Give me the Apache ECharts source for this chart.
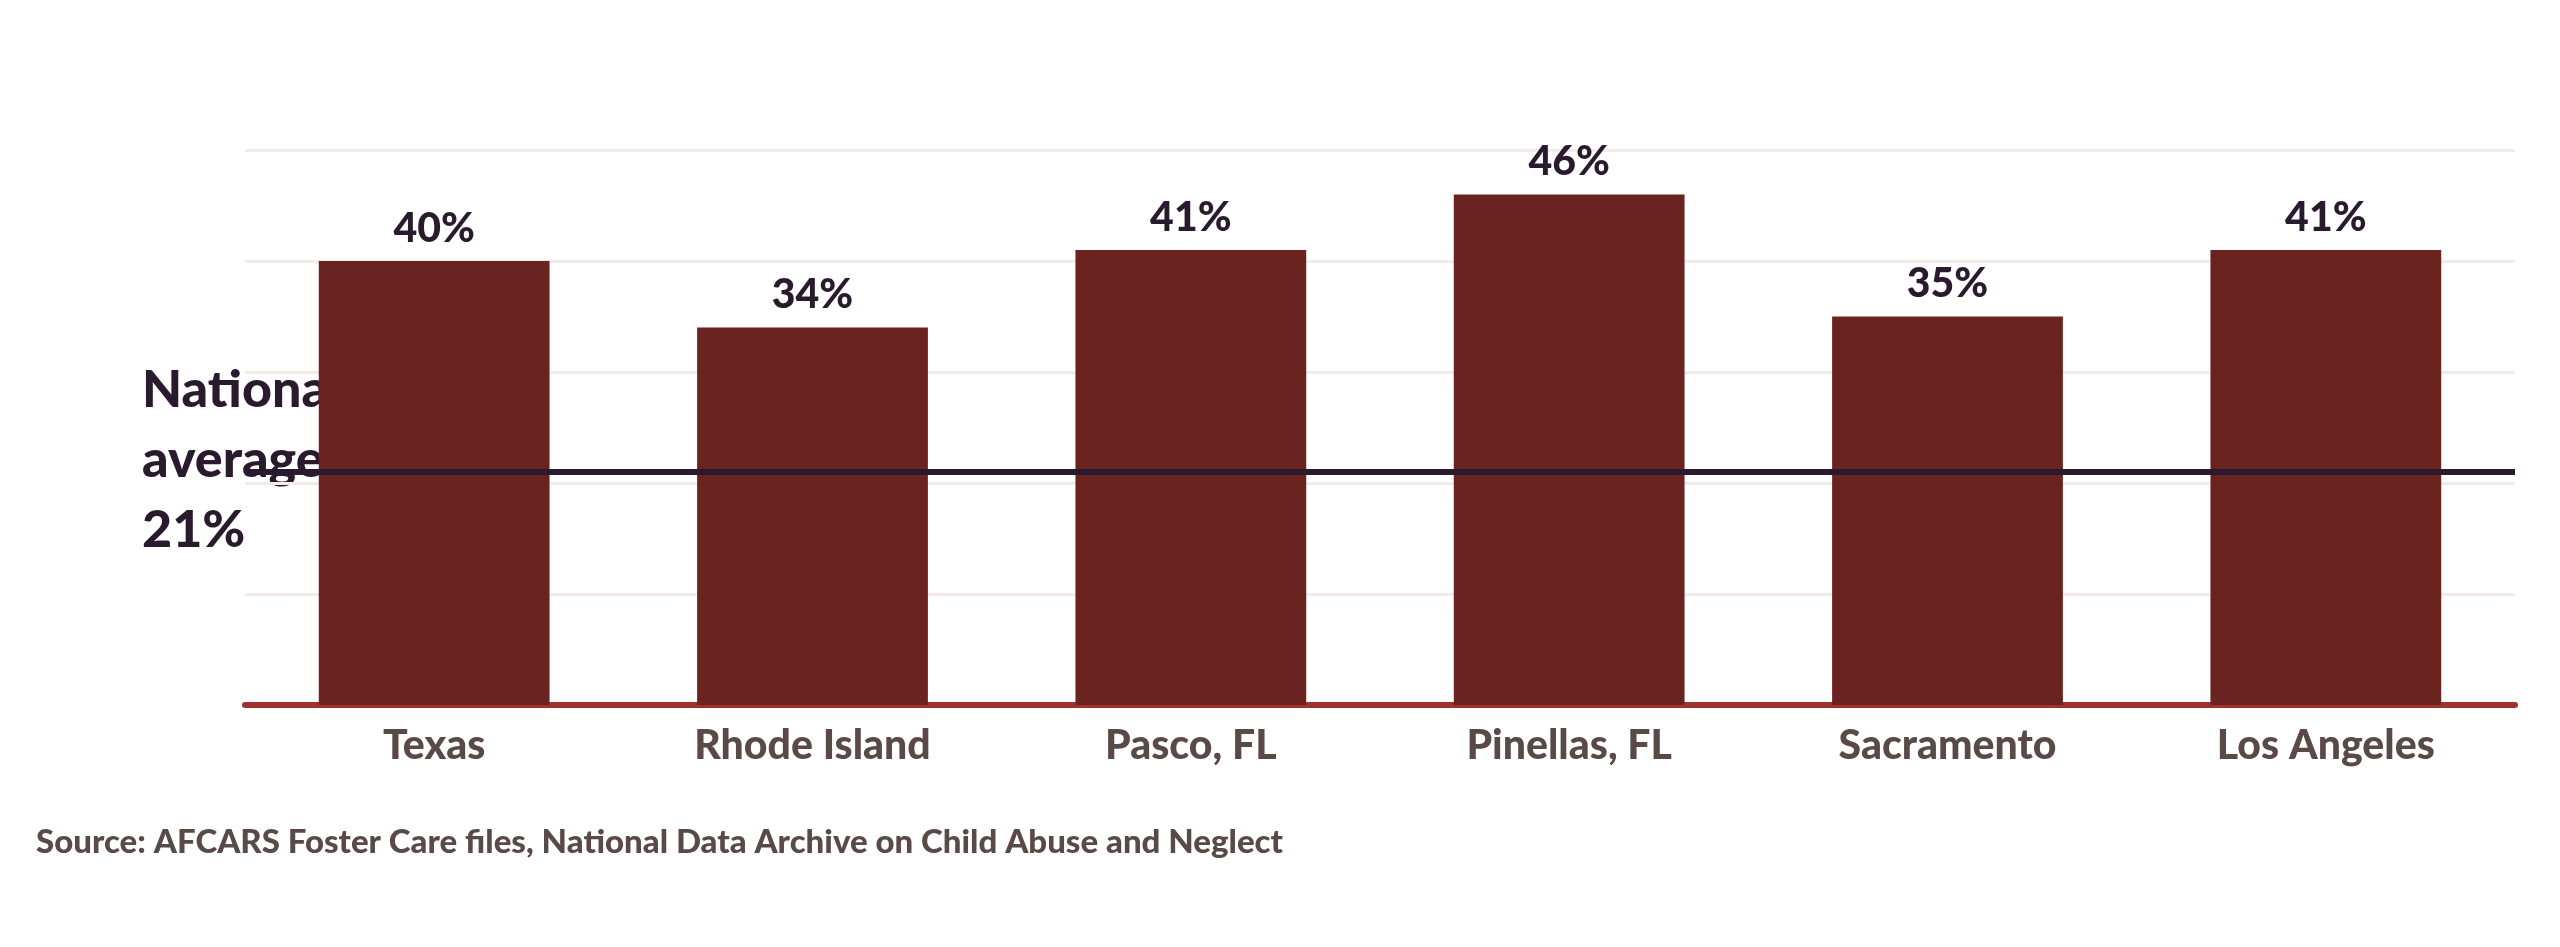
<!DOCTYPE html>
<html>
<head>
<meta charset="utf-8">
<script src="https://cdn.jsdelivr.net/npm/echarts@6/dist/echarts.min.js"></script>
<style>
html,body{margin:0;padding:0;background:#fff;}
#chart{width:2560px;height:947px;}
</style>
</head>
<body>
<div id="chart"></div>
<script>
var categories = ['Texas', 'Rhode Island', 'Pasco, FL', 'Pinellas, FL', 'Sacramento', 'Los Angeles'];
var values = [40, 34, 41, 46, 35, 41];
var nationalAverage = 21;
var sourceText = 'Source: AFCARS Foster Care files, National Data Archive on Child Abuse and Neglect';

var font = 'Lato, "Noto Sans", sans-serif';
var chart = echarts.init(document.getElementById('chart'));
var option = {
    animation: false,
    grid: { left: 245, right: 45, top: 150, bottom: 242 },
    xAxis: {
        type: 'category',
        data: categories,
        axisLine: { lineStyle: { color: '#a0312d', width: 6 } },
        axisTick: { show: false },
        axisLabel: { color: '#5a4a47', fontSize: 41, fontWeight: 900, fontFamily: font, margin: 20 }
    },
    yAxis: {
        type: 'value',
        min: 0, max: 50, interval: 10,
        axisLabel: { show: false },
        axisLine: { show: false },
        axisTick: { show: false },
        splitLine: { lineStyle: { color: '#f3ebe8', width: 3 } }
    },
    series: [{
        type: 'bar',
        data: values,
        barWidth: '61%',
        itemStyle: { color: '#6b231f' },
        label: {
            show: true, position: 'top', distance: 12,
            formatter: '{c}%',
            color: '#2a1a2e', fontSize: 41, fontWeight: 900, fontFamily: font
        },
        markLine: {
            symbol: 'none',
            silent: true,
            data: [{ yAxis: nationalAverage }],
            lineStyle: { color: '#2a1a2e', width: 6, type: 'solid' },
            label: { show: false }
        }
    }],
    graphic: [{
        type: 'text', left: 36, top: 826,
        style: { text: sourceText, fill: '#5a4a47', font: '900 33px ' + font }
    }, {
        type: 'text', left: 142, top: 355,
        style: {
            text: 'National\naverage\n' + nationalAverage + '%',
            fill: '#2a1a2e', font: '900 52px ' + font,
            align: 'center', lineHeight: 70
        }
    }]
};
chart.setOption(option);
</script>
</body>
</html>
